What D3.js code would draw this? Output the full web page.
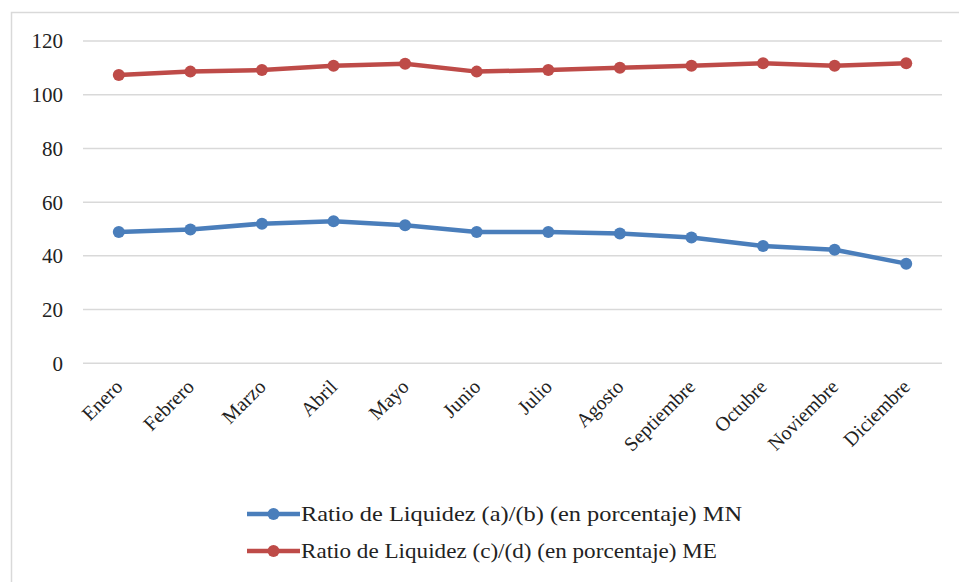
<!DOCTYPE html>
<html>
<head>
<meta charset="utf-8">
<script src="https://cdnjs.cloudflare.com/ajax/libs/d3/7.8.5/d3.min.js"></script>
<style>
  body { margin: 0; background: #fff; }
</style>
</head>
<body>
<div id="chart"></div>
<script>
const months = ["Enero", "Febrero", "Marzo", "Abril", "Mayo", "Junio", "Julio",
                "Agosto", "Septiembre", "Octubre", "Noviembre", "Diciembre"];
const ratioMN = [48.9, 49.8, 52.0, 52.9, 51.4, 48.9, 48.9, 48.3, 46.8, 43.7, 42.3, 37.1];
const ratioME = [107.3, 108.6, 109.2, 110.8, 111.5, 108.6, 109.2, 110.0, 110.8, 111.7, 110.8, 111.7];
const yTicks = [0, 20, 40, 60, 80, 100, 120];
const seriesNames = [
    "Ratio de Liquidez (a)/(b) (en porcentaje) MN",
    "Ratio de Liquidez (c)/(d) (en porcentaje) ME"
];
const colors = ["#4a7ebb", "#be4b48"];

const width = 959;
const height = 582;
const margin = { left: 83, right: 17, top: 41, bottom: 219 };
const serif = "Liberation Serif, DejaVu Serif, serif";

const svg = d3.select("#chart")
    .append("svg")
    .attr("width", width)
    .attr("height", height);

// outer frame (right and bottom edges fall outside the picture)
svg.append("rect")
    .attr("x", 11.5).attr("y", 12.5)
    .attr("width", width + 10).attr("height", height + 10)
    .attr("fill", "none")
    .attr("stroke", "#d9d9d9")
    .attr("stroke-width", 1.5);

const x = d3.scaleBand()
    .domain(months)
    .range([margin.left, width - margin.right]);

const y = d3.scaleLinear()
    .domain([0, 120])
    .range([height - margin.bottom + 0.3, margin.top]);

// gridlines
svg.append("g")
    .selectAll("line")
    .data(yTicks)
    .enter()
    .append("line")
    .attr("x1", margin.left)
    .attr("x2", width - margin.right)
    .attr("y1", d => y(d))
    .attr("y2", d => y(d))
    .attr("stroke", "#d9d9d9")
    .attr("stroke-width", 1.5);

// y labels
svg.append("g")
    .selectAll("text")
    .data(yTicks)
    .enter()
    .append("text")
    .attr("x", 63)
    .attr("y", d => y(d))
    .attr("dy", "0.35em")
    .attr("text-anchor", "end")
    .attr("font-family", serif)
    .attr("font-size", 21)
    .attr("fill", "#222")
    .text(d => d);

// x labels
svg.append("g")
    .selectAll("text")
    .data(months)
    .enter()
    .append("text")
    .attr("transform", d => `translate(${x(d) + x.bandwidth() / 2 + 5}, 388) rotate(-45)`)
    .attr("text-anchor", "end")
    .attr("font-family", serif)
    .attr("font-size", 20)
    .attr("fill", "#222")
    .text(d => d);

const line = d3.line()
    .x((d, i) => x(months[i]) + x.bandwidth() / 2)
    .y(d => y(d));

[ratioMN, ratioME].forEach((values, k) => {
    const g = svg.append("g");
    g.append("path")
        .datum(values)
        .attr("d", line)
        .attr("fill", "none")
        .attr("stroke", colors[k])
        .attr("stroke-width", 4.5)
        .attr("stroke-linejoin", "round");
    g.selectAll("circle")
        .data(values)
        .enter()
        .append("circle")
        .attr("cx", (d, i) => x(months[i]) + x.bandwidth() / 2)
        .attr("cy", d => y(d))
        .attr("r", 6)
        .attr("fill", colors[k]);
});

// legend
const legend = svg.append("g")
    .selectAll("g")
    .data(seriesNames)
    .enter()
    .append("g")
    .attr("transform", (d, i) => `translate(247, ${514 + i * 37})`);

legend.append("line")
    .attr("x1", 0).attr("x2", 53)
    .attr("stroke", (d, i) => colors[i])
    .attr("stroke-width", 4.5);

legend.append("circle")
    .attr("cx", 26.5)
    .attr("r", 6)
    .attr("fill", (d, i) => colors[i]);

legend.append("text")
    .attr("x", 54)
    .attr("dy", "0.35em")
    .attr("font-family", serif)
    .attr("font-size", 21)
    .attr("fill", "#222")
    .attr("textLength", (d, i) => i === 0 ? 441 : 416)
    .attr("lengthAdjust", "spacingAndGlyphs")
    .text(d => d);
</script>
</body>
</html>
